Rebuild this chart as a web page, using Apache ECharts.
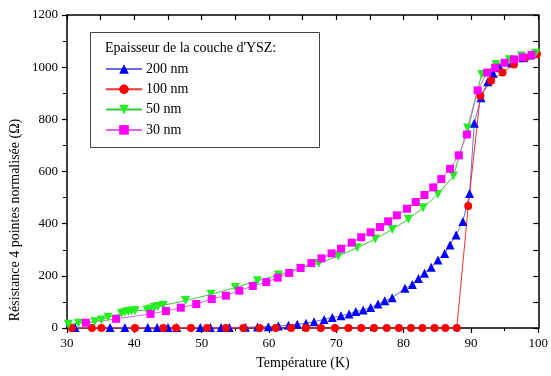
<!DOCTYPE html>
<html>
<head>
<meta charset="utf-8">
<script src="https://cdn.jsdelivr.net/npm/echarts@6/dist/echarts.min.js"></script>
<style>
html,body{margin:0;padding:0;background:#fff;}
#c{width:551px;height:376px;}
</style>
</head>
<body>
<div id="c"></div>
<script>
// ---- data ----
const legendTitle = "Epaisseur de la couche d'YSZ:";
const seriesNames = ['200 nm', '100 nm', '50 nm', '30 nm'];

const t200 = [31.2,36.4,38.6,42.0,43.4,45.0,46.3,49.8,51.3,52.9,54.1,56.5,58.3,59.9,61.4,62.9,64.2,65.5,66.7,68.2,69.4,70.7,71.9,72.9,74.0,75.1,76.2,77.2,78.3,80.2,81.3,82.2,83.1,84.1,85.1,86.1,86.9,87.8,88.8,89.8,90.5,91.5,92.5,93.3,94.3,96.0,97.8,98.8];
const r200 = [2,2,2,2,2,2,2,2,2,2,2,3,4,5,8,11,14,18,24,33,40,47,54,63,69,79,92,104,116,152,167,190,210,233,261,286,318,357,408,516,785,883,944,977,998,1017,1036,1047];

const t100 = [30.7,33.7,35.1,40.1,44.3,46.2,48.4,50.8,53.6,56.2,58.6,61.0,63.3,65.5,67.7,69.8,71.8,73.7,75.6,77.5,79.3,81.1,82.8,84.6,86.2,87.9,89.6,91.4,93.0,94.7,96.4,98.1,99.8];
const r100 = [0,0,0,0,0,0,0,0,0,0,0,0,0,0,0,0,0,0,0,0,0,0,0,0,0,0,468,890,948,980,1010,1036,1050];

const t50 = [30.2,31.7,34.1,35.1,36.1,38.1,38.6,39.1,39.6,40.1,41.9,42.4,43.0,43.5,44.3,47.6,51.4,55.0,58.3,61.4,64.7,67.4,70.3,73.1,75.8,78.3,80.7,82.9,85.1,87.4,89.5,91.6,93.7,95.7,97.5,99.6];
const r50 = [14,18,24,31,41,56,60,63,65,66,69,73,79,82,87,105,129,155,181,203,229,248,276,308,341,378,417,461,513,583,767,972,1010,1028,1043,1053];

const t30 = [32.8,37.3,42.4,44.7,46.9,49.2,51.5,53.6,55.6,57.6,59.6,61.3,63.0,64.7,66.3,67.8,69.3,70.7,72.3,73.7,75.1,76.5,77.7,79.0,80.5,81.8,83.1,84.4,85.6,86.9,88.2,89.4,91.0,92.4,93.6,95.0,96.4,97.7,99.0];
const r30 = [20,35,54,65,78,92,111,124,143,161,176,193,211,230,249,267,286,304,327,348,367,387,409,432,457,483,510,539,571,610,662,742,911,979,998,1017,1030,1038,1047];

const xName = 'Température (K)';
const yName = 'Résistance 4 pointes normalisée (Ω)';

function pairs(xs, ys){ return xs.map((x,i)=>[x, ys[i]]); }

const FONT = '"Liberation Serif", "DejaVu Serif", serif';
const chart = echarts.init(document.getElementById('c'), null, {renderer:'canvas'});

const mainAxisX = {
  type:'value', position:'bottom', min:30, max:100, interval:10,
  axisLine:{show:true, onZero:false, lineStyle:{color:'#000', width:1.5}},
  axisTick:{show:true, inside:false, length:5, lineStyle:{color:'#000', width:1.2}},
  minorTick:{show:true, splitNumber:2, length:3, lineStyle:{color:'#000', width:1}},
  axisLabel:{show:true, color:'#000', fontFamily:FONT, fontSize:13, margin:9, formatter:(v)=>String(v)},
  splitLine:{show:false}, minorSplitLine:{show:false}
};
const topAxisX = {
  type:'value', position:'top', min:30, max:100, interval:5,
  axisLine:{show:true, onZero:false, lineStyle:{color:'#000', width:1.5}},
  axisTick:{show:true, inside:true, length:5, lineStyle:{color:'#000', width:1.2}},
  axisLabel:{show:false}, splitLine:{show:false}
};
const mainAxisY = {
  type:'value', position:'left', min:0, max:1200, interval:200,
  axisLine:{show:true, onZero:false, lineStyle:{color:'#000', width:1.5}},
  axisTick:{show:true, inside:false, length:5, lineStyle:{color:'#000', width:1.2}},
  minorTick:{show:true, splitNumber:2, length:4, lineStyle:{color:'#000', width:1}},
  axisLabel:{show:true, color:'#000', fontFamily:FONT, fontSize:13, margin:9, formatter:(v)=>String(v)},
  splitLine:{show:false}, minorSplitLine:{show:false}
};
const rightAxisY = {
  type:'value', position:'right', min:0, max:1200, interval:100,
  axisLine:{show:true, onZero:false, lineStyle:{color:'#000', width:1.5}},
  axisTick:{show:true, inside:true, length:5, lineStyle:{color:'#000', width:1.2}},
  axisLabel:{show:false}, splitLine:{show:false}
};

function mk(name, data, symbol, rotate, color, lineColor, size){
  return {
    name, type:'line', data, xAxisIndex:0, yAxisIndex:0,
    symbol, symbolRotate:rotate, symbolSize:size, showSymbol:true,
    itemStyle:{color, borderWidth:0},
    lineStyle:{color:lineColor, width:1},
    emphasis:{disabled:true}, animation:false, clip:false
  };
}

chart.setOption({
  backgroundColor:'#fff',
  animation:false,
  grid:{left:67, right:11, top:15, bottom:48, containLabel:false},
  xAxis:[mainAxisX, topAxisX],
  yAxis:[mainAxisY, rightAxisY],
  legend:{
    show:true, orient:'vertical', left:100, top:57,
    padding:5, itemWidth:36, itemHeight:12, itemGap:6.3,
    textStyle:{fontFamily:FONT, fontSize:14, color:'#000', padding:[0,0,0,-1]},
    data:seriesNames
  },
  graphic:[
    {type:'rect', left:88, top:30, shape:{width:229, height:115}, style:{fill:'none', stroke:'#444', lineWidth:1}, z:0},
    {type:'text', left:105, top:41, style:{text:legendTitle, font:'14px '+FONT, fill:'#000'}},
    {type:'text', x:303, y:363, style:{text:xName, font:'14px '+FONT, fill:'#000', align:'center', verticalAlign:'middle'}},
    {type:'text', x:15, y:220, rotation:Math.PI/2, style:{text:yName, font:'14px '+FONT, fill:'#000', align:'center', verticalAlign:'middle'}}
  ],
  series:[
    mk(seriesNames[0], pairs(t200, r200), 'triangle', 0, '#0000ff', '#6a6ae0', 9),
    mk(seriesNames[1], pairs(t100, r100), 'circle', 0, '#ff0000', '#ee3333', 8),
    mk(seriesNames[2], pairs(t50, r50), 'triangle', 180, '#22ee22', '#33cc33', 9),
    mk(seriesNames[3], pairs(t30, r30), 'rect', 0, '#ff00ff', '#dd66dd', 8)
  ]
});
</script>
</body>
</html>
